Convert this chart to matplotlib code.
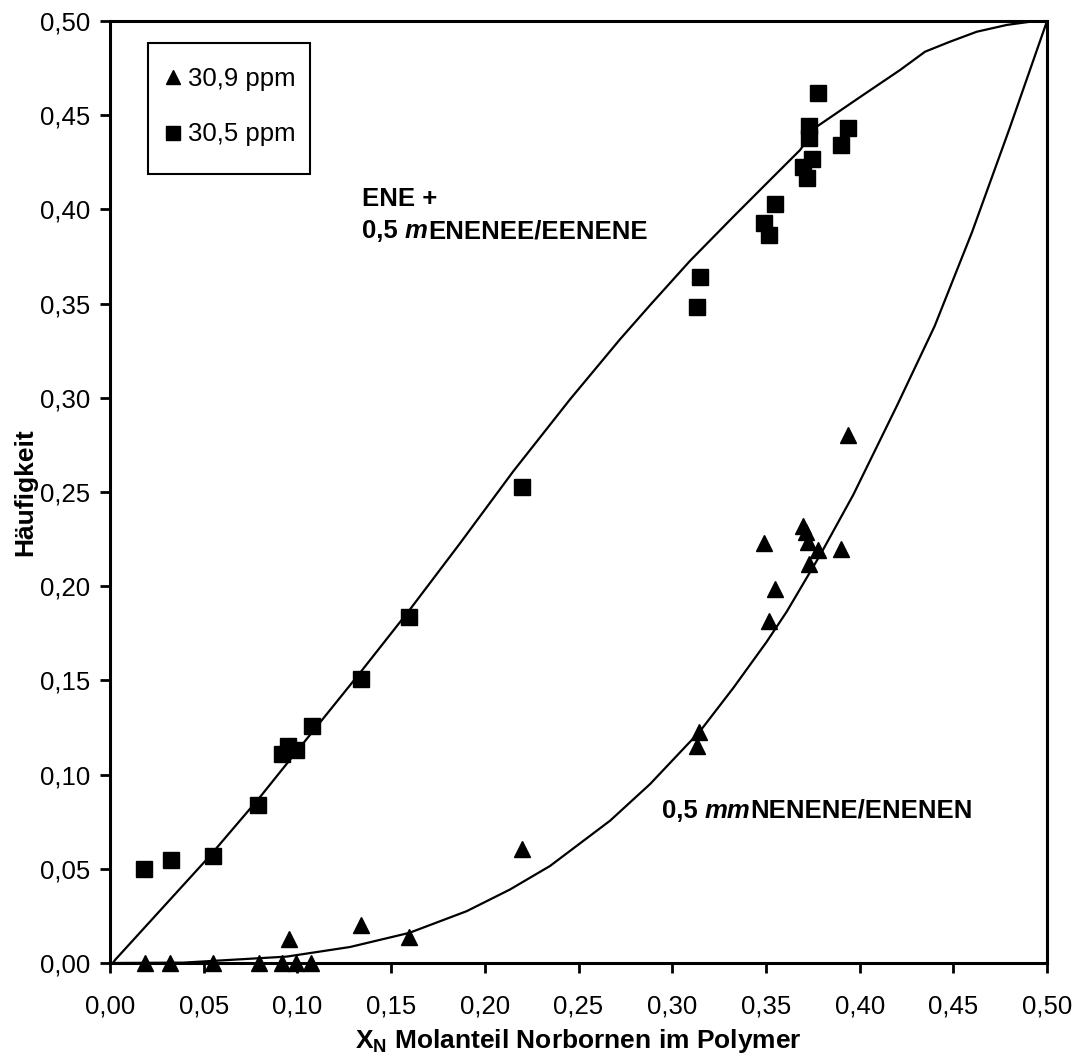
import numpy as np
import matplotlib
matplotlib.use("Agg")
import matplotlib.pyplot as plt
from matplotlib.patches import Rectangle
from matplotlib.offsetbox import TextArea, HPacker, AnnotationBbox

plt.rcParams['font.family'] = ['Liberation Sans', 'DejaVu Sans']

# measured points, 30,9 ppm (triangles)
tri_x = [0.0187, 0.032, 0.055, 0.0795, 0.092, 0.099, 0.107, 0.0957, 0.134, 0.1597,
         0.220, 0.3145, 0.313, 0.394, 0.349, 0.355, 0.3517, 0.370, 0.3714, 0.3725,
         0.373, 0.378, 0.390]
tri_y = [0.0, 0.0, 0.0, 0.0, 0.0, 0.0, 0.0, 0.013, 0.020, 0.0137,
         0.0605, 0.1226, 0.115, 0.280, 0.223, 0.1985, 0.1815, 0.232, 0.229, 0.2235,
         0.212, 0.219, 0.220]

# measured points, 30,5 ppm (squares)
sq_x = [0.018, 0.0325, 0.055, 0.079, 0.092, 0.095, 0.099, 0.108, 0.134, 0.1597,
        0.220, 0.313, 0.315, 0.349, 0.3517, 0.355, 0.370, 0.372, 0.3746, 0.373,
        0.373, 0.378, 0.390, 0.394]
sq_y = [0.050, 0.0547, 0.057, 0.084, 0.111, 0.115, 0.113, 0.126, 0.151, 0.1837,
        0.2527, 0.348, 0.364, 0.393, 0.3864, 0.403, 0.4225, 0.4167, 0.427, 0.438,
        0.444, 0.462, 0.434, 0.443]

# model curve ENE + 0,5 m ENENEE/EENENE
up_x = [0.0016, 0.0027, 0.053, 0.080, 0.0925, 0.1334, 0.1601, 0.1868, 0.2152, 0.2455,
        0.2721, 0.2882, 0.3095, 0.3326, 0.3540, 0.3682, 0.3771, 0.3993, 0.4216, 0.4349,
        0.4482, 0.4625, 0.4785, 0.4909, 0.5]
up_y = [0.0, 0.0016, 0.0565, 0.0880, 0.1035, 0.1540, 0.1877, 0.2228, 0.2610, 0.2992,
        0.3310, 0.3492, 0.3727, 0.3961, 0.4174, 0.4315, 0.4439, 0.4590, 0.4740, 0.4837,
        0.4890, 0.4943, 0.4979, 0.4996, 0.5]

# model curve 0,5 mm NENENE/ENENEN
lo_x = [0.0, 0.0391, 0.0943, 0.1281, 0.1597, 0.1903, 0.2134, 0.2348, 0.2668, 0.2882,
        0.3148, 0.3326, 0.3504, 0.3611, 0.3789, 0.3966, 0.42, 0.44, 0.46, 0.48, 0.5]
lo_y = [0.0, 0.0002, 0.0034, 0.0085, 0.0160, 0.0275, 0.0390, 0.0515, 0.0755, 0.0950,
        0.1230, 0.1460, 0.1705, 0.1865, 0.2165, 0.2485, 0.296, 0.338, 0.388, 0.443, 0.5]

ticks = [0.0, 0.05, 0.10, 0.15, 0.20, 0.25, 0.30, 0.35, 0.40, 0.45, 0.50]
tick_labels = ['0,00', '0,05', '0,10', '0,15', '0,20', '0,25', '0,30', '0,35', '0,40', '0,45', '0,50']

fig = plt.figure(figsize=(10.76, 10.60), dpi=100)
ax = fig.add_axes([0.1022, 0.0915, 0.8709, 0.8887])

ax.plot(up_x, up_y, color='black', lw=1.6, zorder=2)
ax.plot(lo_x, lo_y, color='black', lw=1.6, zorder=2)
ax.plot(tri_x, tri_y, '^', color='black', ms=11, ls='none', label='30,9 ppm',
        zorder=3, clip_on=False)
ax.plot(sq_x, sq_y, 's', color='black', ms=11, ls='none', label='30,5 ppm',
        zorder=3, clip_on=False)

ax.set_xlim(0, 0.5)
ax.set_ylim(0, 0.5)
ax.set_xticks(ticks)
ax.set_xticklabels(tick_labels)
ax.set_yticks(ticks)
ax.set_yticklabels(tick_labels)
ax.tick_params(direction='out', length=7, width=2, labelsize=18.5)
ax.tick_params(axis='x', pad=16)
ax.tick_params(axis='y', pad=7)
for s in ax.spines.values():
    s.set_linewidth(2.2)

ax.set_ylabel('Häufigkeit', fontsize=19, fontweight='bold', labelpad=2)
ax.set_xlabel(r'X$_\mathregular{N}$ Molanteil Norbornen im Polymer', fontsize=19,
              fontweight='bold', labelpad=6)

# legend box drawn separately, entries placed inside it
ax.add_patch(Rectangle((0.0406, 0.8376), 0.1728, 0.139, transform=ax.transAxes,
                       fill=False, lw=1.5, edgecolor='black', zorder=4))
ax.legend(loc='upper left', bbox_to_anchor=(0.0587, 0.951), fontsize=18.5,
          frameon=False, handlelength=0.6, handletextpad=0.28, markerscale=0.9,
          labelspacing=1.22, borderpad=0, borderaxespad=0)


def mixed_label(parts, xy):
    boxes = [TextArea(t, textprops=dict(fontsize=18.5, fontweight='bold', fontstyle=st))
             for t, st in parts]
    pack = HPacker(children=boxes, align='baseline', pad=0, sep=0)
    ab = AnnotationBbox(pack, xy, xycoords='data', frameon=False, box_alignment=(0, 0.5))
    ax.add_artist(ab)


mixed_label([('ENE +', 'normal')], (0.1345, 0.4055))
mixed_label([('0,5 ', 'normal'), ('m', 'italic'), ('ENENEE/EENENE', 'normal')], (0.1345, 0.3885))
mixed_label([('0,5 ', 'normal'), ('mm', 'italic'), ('NENENE/ENENEN', 'normal')], (0.2946, 0.0807))

fig.savefig('out.png', dpi=100)
